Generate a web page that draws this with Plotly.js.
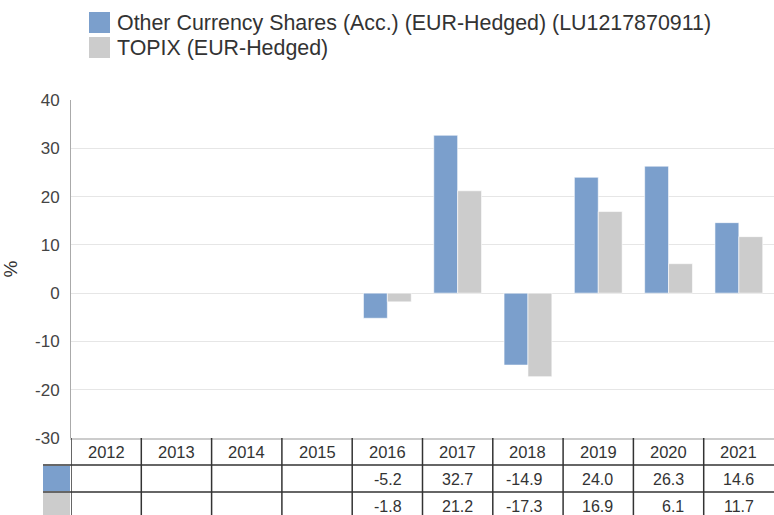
<!DOCTYPE html>
<html>
<head>
<meta charset="utf-8">
<script src="https://cdn.plot.ly/plotly-3.0.1.min.js"></script>
<style>
html,body{margin:0;padding:0;background:#fff;}
#chart{width:774px;height:515px;}
</style>
</head>
<body>
<div id="chart"></div>
<script>
// ---- data ----
const years = ['2012','2013','2014','2015','2016','2017','2018','2019','2020','2021'];
const fundName = 'Other Currency Shares (Acc.) (EUR-Hedged) (LU1217870911)';
const indexName = 'TOPIX (EUR-Hedged)';
const fundValues = [null,null,null,null,-5.2,32.7,-14.9,24.0,26.3,14.6];
const indexValues = [null,null,null,null,-1.8,21.2,-17.3,16.9,6.1,11.7];
const yTickVals = [-30,-20,-10,0,10,20,30,40];
const yTickText = ['-30','-20','-10','0','10','20','30','40'];

// ---- style ----
const blue = '#7b9fcc';
const grey = '#cccccc';
const font = '"Liberation Sans", Arial, sans-serif';
const lineCol = '#333333';

const W = 774, H = 515;
const mL = 71, mR = 0, mT = 100, mB = 77;
const plotH = H - mT - mB, plotW = W - mL - mR;
const py = Y => (H - mB - Y) / plotH;   // pixel y -> paper y
const px = X => (X - mL) / plotW;       // pixel x -> paper x

const traces = [
  {type:'bar', x: years, y: fundValues, name: fundName,
   marker:{color: blue, line:{color:'rgba(255,255,255,0.6)', width:1}}, hoverinfo:'x+y'},
  {type:'bar', x: years, y: indexValues, name: indexName,
   marker:{color: grey, line:{color:'rgba(255,255,255,0.6)', width:1}}, hoverinfo:'x+y'}
];

const shapes = [];
const annotations = [];
const fmt = v => v.toFixed(1);

// table horizontal lines
[465, 492].forEach(Y => shapes.push({type:'line', xref:'paper', yref:'paper',
  x0: px(43), x1: 1, y0: py(Y), y1: py(Y), line:{color: lineCol, width:1.5}}));
// table vertical lines
for (let i = 0; i < years.length; i++) {
  shapes.push({type:'line', xref:'x', yref:'paper', x0: i - 0.5, x1: i - 0.5,
    y0: py(438), y1: py(H + 2), line:{color: lineCol, width:1.5}});
}
// series colour cells in table
shapes.push({type:'rect', xref:'paper', yref:'paper', x0: px(43), x1: px(70),
  y0: py(466), y1: py(491), fillcolor: blue, line:{width:0}});
shapes.push({type:'rect', xref:'paper', yref:'paper', x0: px(43), x1: px(70),
  y0: py(493), y1: py(H + 2), fillcolor: grey, line:{width:0}});

// header years and values (x given as category index on the x axis)
years.forEach((yr, i) => {
  annotations.push({xref:'x', yref:'paper', x: i, y: py(451.5), text: yr, showarrow:false,
    xanchor:'center', yanchor:'middle', font:{family: font, size:16.5, color:'#333'}});
  if (fundValues[i] !== null) annotations.push({xref:'x', yref:'paper', x: i, y: py(479),
    text: fmt(fundValues[i]), showarrow:false, xanchor:'right', xshift:17, yanchor:'middle',
    font:{family: font, size:16, color:'#333'}});
  if (indexValues[i] !== null) annotations.push({xref:'x', yref:'paper', x: i, y: py(506),
    text: fmt(indexValues[i]), showarrow:false, xanchor:'right', xshift:17, yanchor:'middle',
    font:{family: font, size:16, color:'#333'}});
});

// legend
shapes.push({type:'rect', xref:'paper', yref:'paper', x0: px(89), x1: px(110),
  y0: py(12), y1: py(33), fillcolor: blue, line:{width:0}});
shapes.push({type:'rect', xref:'paper', yref:'paper', x0: px(89), x1: px(110),
  y0: py(37), y1: py(58), fillcolor: grey, line:{width:0}});
annotations.push({xref:'paper', yref:'paper', x: px(115), y: py(22.5), text: fundName,
  showarrow:false, xanchor:'left', yanchor:'middle', font:{family: font, size:21.4, color:'#333'}});
annotations.push({xref:'paper', yref:'paper', x: px(115), y: py(47.5), text: indexName,
  showarrow:false, xanchor:'left', yanchor:'middle', font:{family: font, size:21.4, color:'#333'}});

const layout = {
  width: W, height: H,
  margin:{l: mL, r: mR, t: mT, b: mB, pad:0},
  paper_bgcolor:'#fff', plot_bgcolor:'#fff',
  showlegend:false,
  barmode:'group', bargap:0.32, bargroupgap:0,
  xaxis:{type:'category', range:[-0.5, 9.5], showticklabels:false, ticks:'',
    showgrid:false, zeroline:false, showline:true, linecolor:'#cccccc', linewidth:2,
    fixedrange:true},
  yaxis:{range:[-30, 40], tickvals: yTickVals, ticktext: yTickText, ticks:'', showgrid:true, gridcolor:'#e6e6e6',
    zeroline:false, showline:true, linecolor:'#aaaaaa', linewidth:1,
    tickfont:{family: font, size:17, color:'#444'}, ticklabelstandoff:7,
    title:{text:'%', font:{family: font, size:19, color:'#333'}, standoff:14},
    fixedrange:true},
  shapes, annotations,
  font:{family: font}
};

Plotly.newPlot('chart', traces, layout, {displayModeBar:false, staticPlot:true});
</script>
</body>
</html>
